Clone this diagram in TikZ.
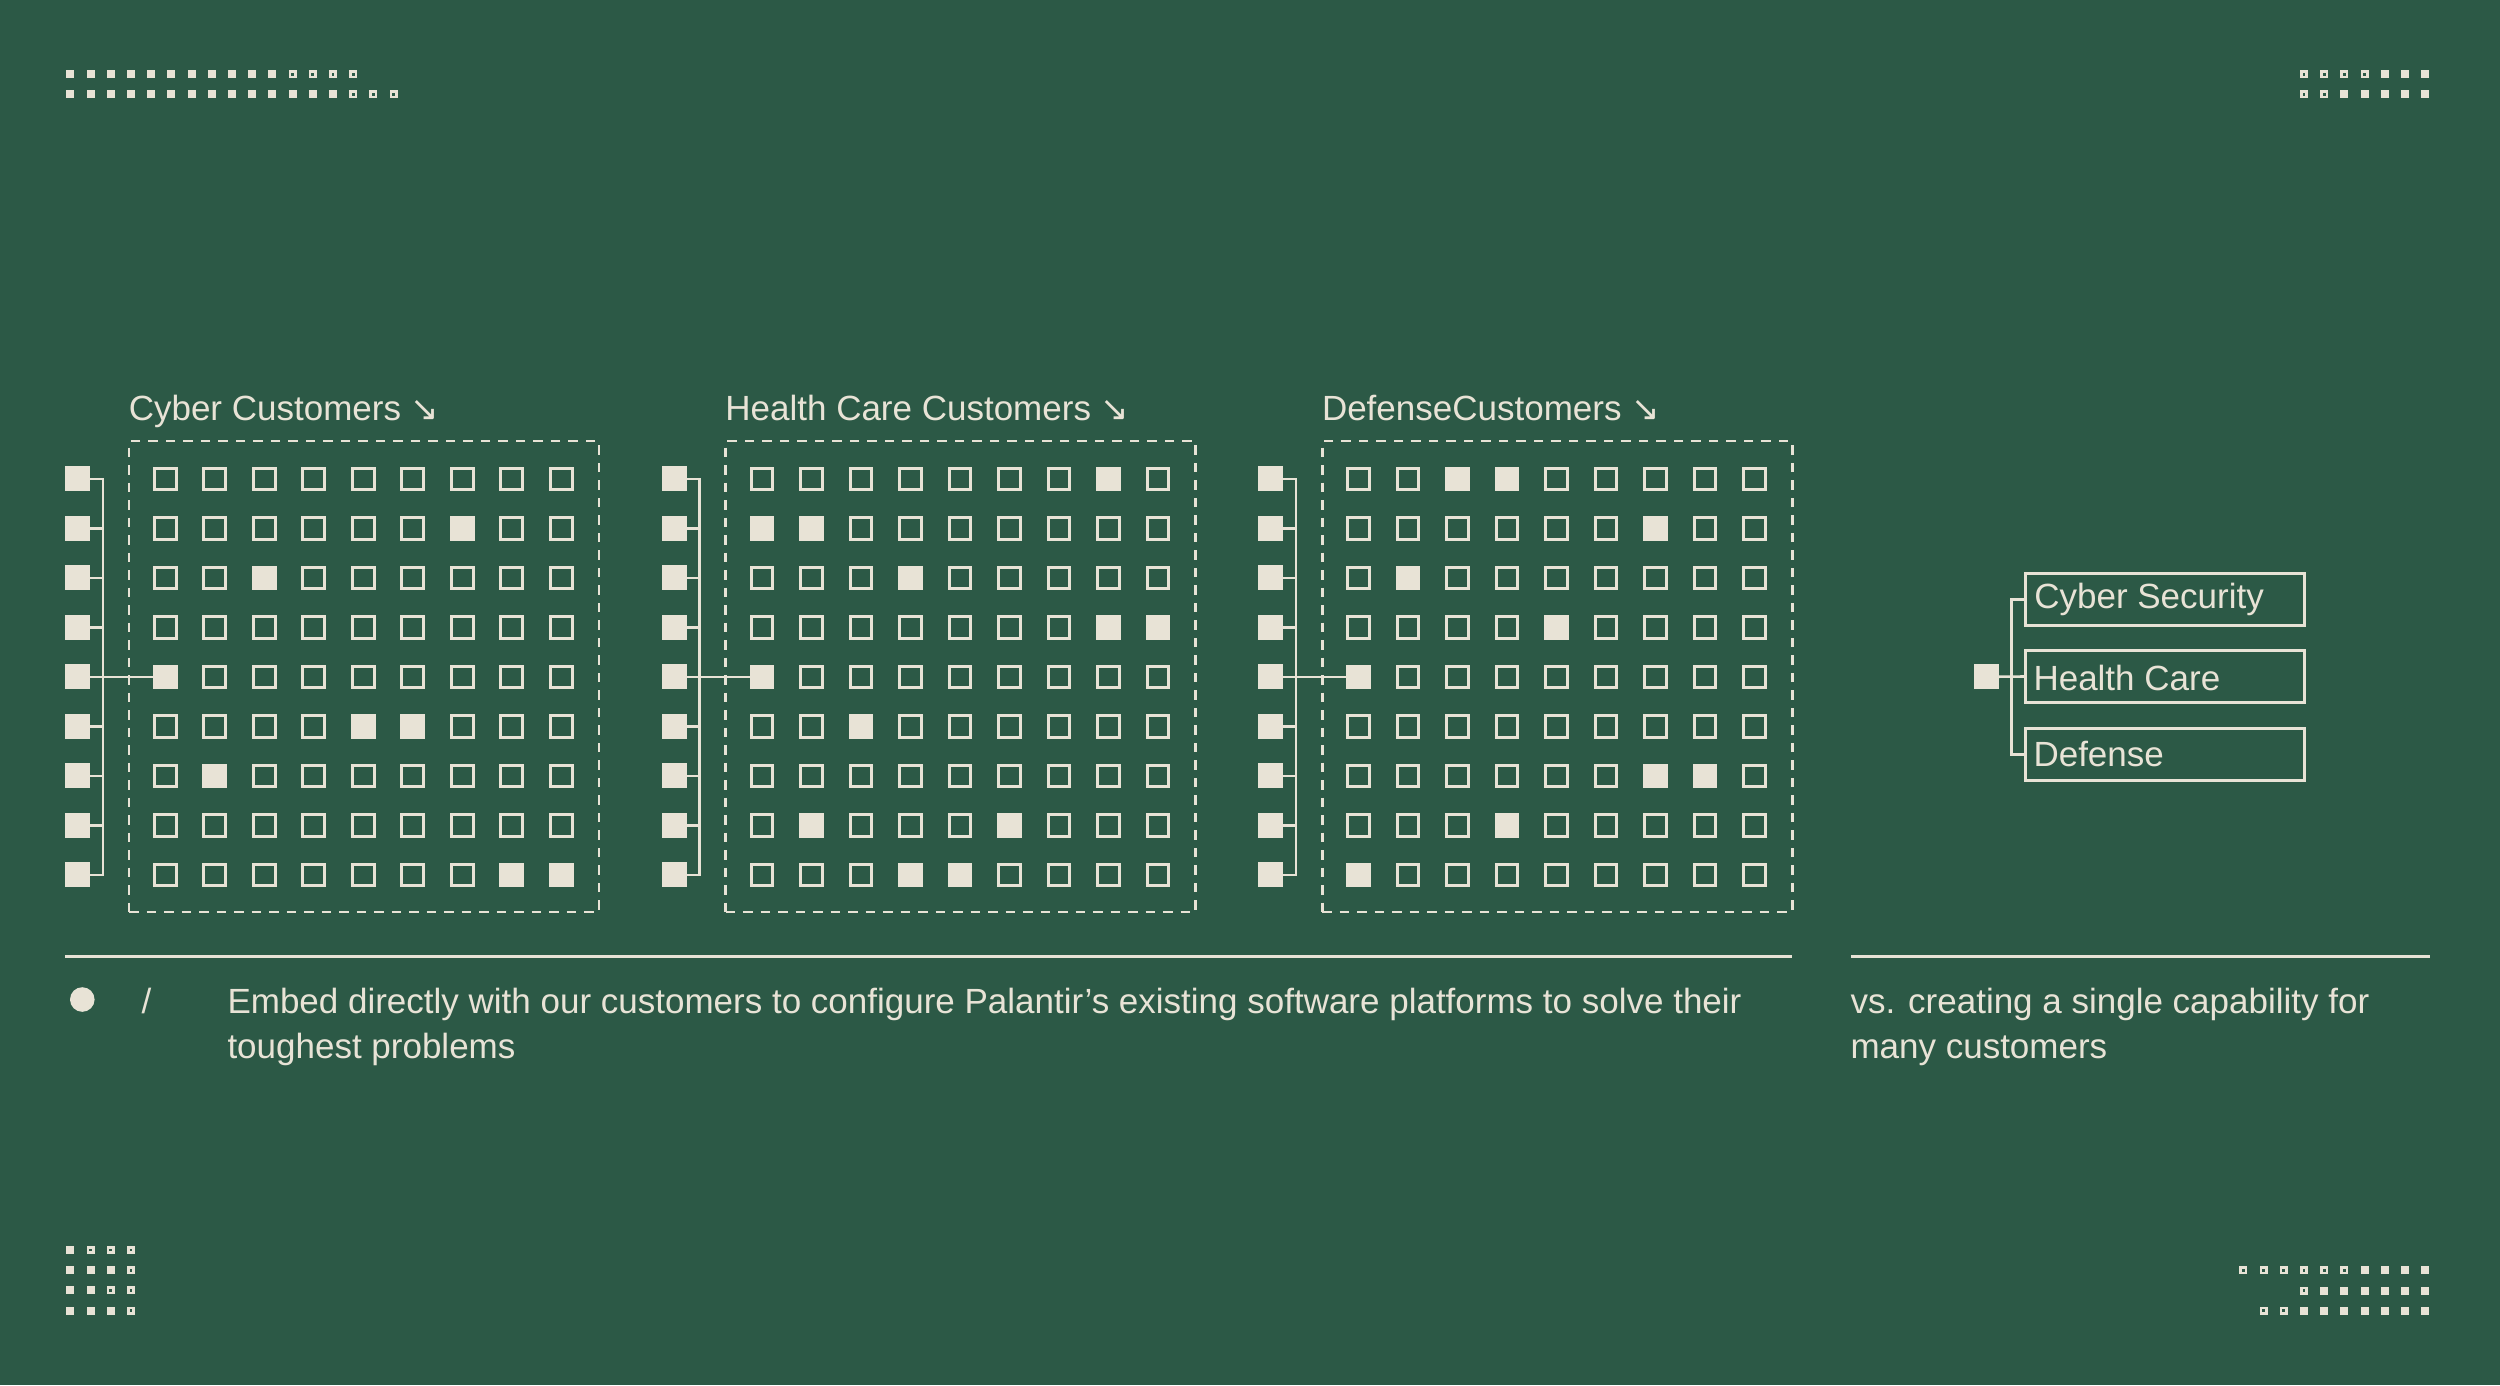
\documentclass[tikz,border=0pt]{standalone}
\usepackage{fontspec}
\usepackage{xstring}
\setmainfont{Liberation Sans}
\newfontfamily\arrowfont{DejaVu Sans}
\definecolor{bg}{RGB}{44,89,70}
\definecolor{fg}{RGB}{232,227,214}
\tikzset{
 cell/.style={draw=fg, line width=3pt, minimum size=21.6pt, inner sep=0pt, outer sep=0pt},
 cellon/.style={fill=fg, minimum size=24.6pt, inner sep=0pt, outer sep=0pt},
 lsq/.style={fill=fg, minimum size=25pt, inner sep=0pt, outer sep=0pt},
 dbox/.style={draw=fg, line width=2.6pt, dash pattern=on 9.5pt off 8pt, minimum width=470pt, minimum height=471pt, inner sep=0pt, outer sep=0pt},
 lbox/.style={draw=fg, line width=2.6pt, minimum width=279.4pt, minimum height=51.8pt, inner sep=0pt, outer sep=0pt},
 conn/.style={draw=fg, line width=2.6pt},
 txt/.style={text=fg, font=\fontsize{35}{45}\selectfont, inner sep=0pt, outer sep=0pt, anchor=base west},
 rulel/.style={draw=fg, line width=2.5pt},
 bullet/.style={circle, fill=fg, minimum size=24.6pt, inner sep=0pt, outer sep=0pt},
}
\newcommand\pdrow[3]{%
  \foreach \k [count=\i from 0] in {#3}{%
    \pgfmathsetmacro\xx{#1+20.2*\i}%
    \IfStrEq{\k}{F}{\fill[fg] (\xx-4,#2-4) rectangle (\xx+4,#2+4);}{}%
    \IfStrEq{\k}{H}{\draw[fg,line width=2.6pt] (\xx-2.7,#2-2.7) rectangle (\xx+2.7,#2+2.7);}{}%
  }}
\def\onlist{,0-2-7,0-3-3,0-5-1,0-6-5,0-6-6,0-7-2,0-9-8,0-9-9,1-1-8,1-2-1,1-2-2,1-3-4,1-4-8,1-4-9,1-5-1,1-6-3,1-8-2,1-8-6,1-9-4,1-9-5,2-1-3,2-1-4,2-2-7,2-3-2,2-4-5,2-5-1,2-7-7,2-7-8,2-8-4,2-9-1,}
\begin{document}
\begin{tikzpicture}[x=1pt,y=-1pt]
\fill[bg] (0,0) rectangle (2500,1385);
\useasboundingbox (0,0) rectangle (2500,1385);

% corner dot patterns
\pdrow{70.3}{74.3}{F,F,F,F,F,F,F,F,F,F,F,H,H,H,H}
\pdrow{70.3}{94.3}{F,F,F,F,F,F,F,F,F,F,F,F,F,F,H,H,H}
\pdrow{2304}{74.3}{H,H,H,H,F,F,F}
\pdrow{2304}{94.3}{H,H,F,F,F,F,F}
\pdrow{70.3}{1250}{F,H,H,H}
\pdrow{70.3}{1270.2}{F,F,F,H}
\pdrow{70.3}{1290.4}{F,F,H,H}
\pdrow{70.3}{1310.6}{F,F,F,H}
\pdrow{2243.3}{1270.3}{H,H,H,H,H,H,F,F,F,F}
\pdrow{2243.3}{1290.5}{N,N,N,H,F,F,F,F,F,F}
\pdrow{2243.3}{1310.7}{N,H,H,F,F,F,F,F,F,F}

% three customer groups
\foreach \g/\lab in {0/Cyber Customers,1/Health Care Customers,2/DefenseCustomers}{
  \pgfmathsetmacro\ox{\g*596.6}
  \node[txt] (lab\g) at (\ox+128.8,420.7) {\lab\ {\arrowfont\fontsize{34}{34}\selectfont ↘}};
  \node[dbox] (box\g) at (\ox+364,676.5) {};
  \coordinate (sp\g) at (\ox+102.9,478.8);
  \foreach \r in {1,...,9}{
    \pgfmathsetmacro\yy{478.8+49.5*(\r-1)}
    \node[lsq] (L\g-\r) at (\ox+77.7,\yy) {};
    \foreach \c in {1,...,9}{
      \pgfmathsetmacro\xc{\ox+165.2+49.5*(\c-1)}
      \IfSubStr{\onlist}{,\g-\r-\c,}%
        {\node[cellon] (S\g-\r-\c) at (\xc,\yy) {};}%
        {\node[cell] (S\g-\r-\c) at (\xc,\yy) {};}%
    }
  }
  \draw[conn] (L\g-1.east) -| (sp\g) |- (L\g-9.east);
  \foreach \r in {2,3,4,6,7,8}{
    \draw[conn] (L\g-\r.east) -- (L\g-\r.east -| sp\g);
  }
  \draw[conn] (L\g-5.east) -- (S\g-5-1.west);
}

% legend on the right
\node[lsq] (hub) at (1986,676.7) {};
\node[lbox] (b1) at (2165,599.5) {};
\node[lbox] (b2) at (2165,676.5) {};
\node[lbox] (b3) at (2165,754.5) {};
\node[txt] (t1) at (2034.3,608.5) {Cyber Security};
\node[txt] (t2) at (2033.5,690.5) {Health Care};
\node[txt] (t3) at (2033.5,766) {Defense};
\draw[conn] (hub.east) -- (b2.west);
\draw[conn] (b1.west) -- ++(-14,0) |- (b3.west);

% bottom rules and text
\draw[rulel] (65,956.5) -- (1792,956.5);
\draw[rulel] (1851,956.5) -- (2430,956.5);
\node[bullet] (dot) at (82.3,999.5) {};
\node[txt] (slash) at (141.5,1013) {/};
\node[txt] (main) at (227.5,1013) {\vtop{\hbox{Embed directly with our customers to configure Palantir’s existing software platforms to solve their}\hbox{toughest problems}}};
\node[txt] (side) at (1850.5,1013) {\vtop{\hbox{vs. creating a single capability for}\hbox{many customers}}};
\end{tikzpicture}
\end{document}
